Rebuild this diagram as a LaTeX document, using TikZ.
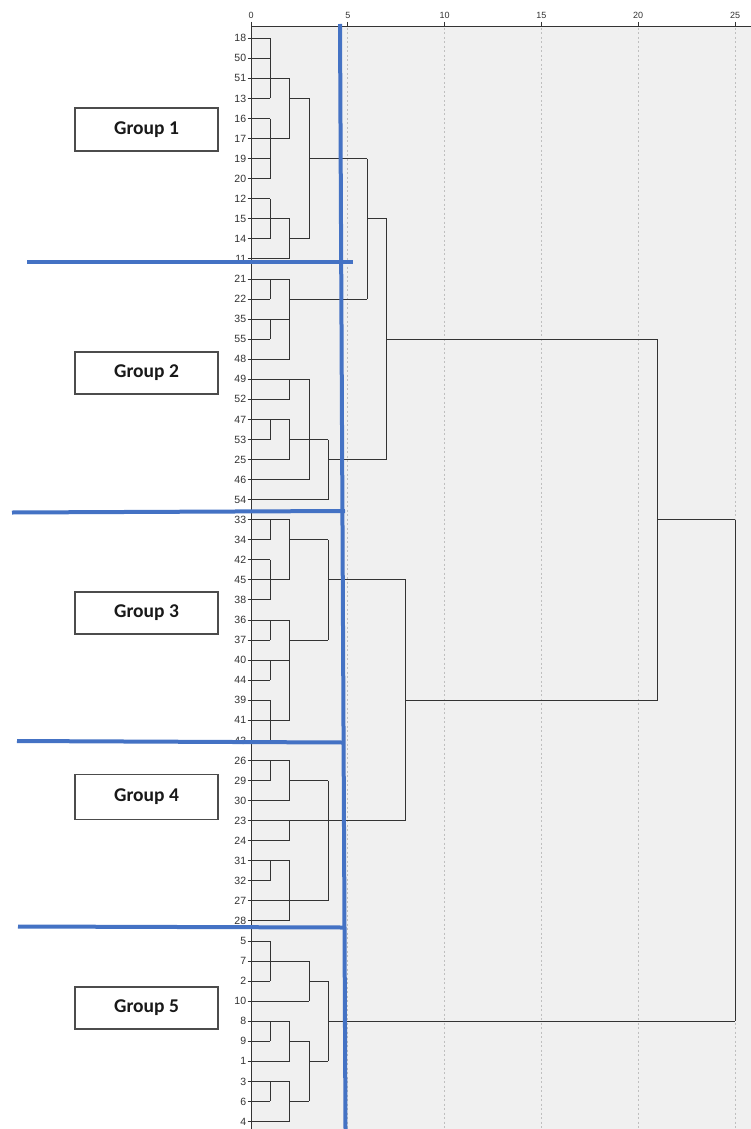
\documentclass[tikz,border=0pt]{standalone}
\usepackage{fontspec}
\setmainfont{Liberation Sans}
\newfontfamily\boxfont{Carlito}
\begin{document}
\begin{tikzpicture}[x=1pt,y=-1pt,
  dline/.style={draw=black!80,line width=1pt},
  leaf/.style={anchor=east,inner sep=0pt,font=\fontsize{10.5}{12}\selectfont,text=black!80},
  axlab/.style={anchor=south,inner sep=0pt,font=\fontsize{9}{10}\selectfont,text=black!80},
  gridl/.style={draw=black!25,line width=0.8pt,dash pattern=on 2pt off 2.5pt},
  cut/.style={draw=cutblue,line width=4pt},
  gbox/.style={draw=black!70,line width=1.2pt,fill=white,minimum width=143pt,inner sep=0pt,font=\boxfont\bfseries\fontsize{19.5}{22}\selectfont,text=black!90}
]
\definecolor{cutblue}{HTML}{4472C4}
\definecolor{bgc}{HTML}{F0F0F0}
\useasboundingbox (0,0) rectangle (751,1129);
\fill[white] (0,0) rectangle (751,1129);
% plot background
\fill[bgc] (251,27) rectangle (751,1129);
% grid lines
\foreach \k in {1,...,5} \draw[gridl] ({251+96.8*\k},28) -- ({251+96.8*\k},1129);
% axis
\draw[dline] (251,27) -- (751,27);
\draw[dline] (251,27) -- (251,1129);
\foreach \k/\t in {0/0,1/5,2/10,3/15,4/20,5/25}{
  \draw[dline] ({251+96.8*\k},22) -- ({251+96.8*\k},27);
  \node[axlab] (ax\k) at ({251+96.8*\k},19) {\t};
}
% dendrogram
\begin{scope}[shift={(251pt,-38.3pt)},x=19.36pt,y=-20.06pt]
\foreach \lab [count=\i from 0] in {18,50,51,13,16,17,19,20,12,15,14,11,21,22,35,55,48,49,52,47,53,25,46,54,33,34,42,45,38,36,37,40,44,39,41,43,26,29,30,23,24,31,32,27,28,5,7,2,10,8,9,1,3,6,4}{
  \node[leaf] (l\lab) at (-0.24,\i) {\lab};
  \draw[dline] (-0.18,\i) -- (0,\i);
}
% horizontal segments: row/from/to
\foreach \r/\a/\b in {
 0/0/1, 1/0/1, 2/0/2, 3/0/1, 3/2/3, 4/0/1, 5/0/2, 6/0/1, 6/3/6, 7/0/1,
 8/0/1, 9/0/2, 9/6/7, 10/0/1, 10/2/3, 11/0/2,
 12/0/2, 13/0/1, 13/2/6, 14/0/2, 15/0/1, 15/7/21, 16/0/2, 17/0/3, 18/0/2,
 19/0/2, 20/0/1, 20/2/4, 21/0/2, 21/4/7, 22/0/3, 23/0/4,
 24/0/2, 24/21/25, 25/0/1, 25/2/4, 26/0/1, 27/0/2, 27/4/8, 28/0/1, 29/0/2,
 30/0/1, 30/2/4, 31/0/2, 32/0/1, 33/0/1, 33/8/21, 34/0/2, 35/0/1,
 36/0/2, 37/0/1, 37/2/4, 38/0/2, 39/0/8, 40/0/2, 41/0/2, 42/0/1, 43/0/4, 44/0/2,
 45/0/1, 46/0/3, 47/0/1, 47/3/4, 48/0/3, 49/0/2, 49/4/25, 50/0/1, 50/2/3,
 51/0/2, 51/3/4, 52/0/2, 53/0/1, 53/2/3, 54/0/2}
  \draw[dline] (\a,\r) -- (\b,\r);
% vertical segments: height/fromrow/torow
\foreach \c/\a/\b in {
 1/0/3, 1/4/7, 1/8/10, 2/2/5, 2/9/11, 3/3/10, 6/6/13, 7/9/21,
 1/12/13, 1/14/15, 1/19/20, 2/12/16, 2/17/18, 2/19/21, 3/17/22, 4/20/23,
 1/24/25, 1/26/28, 1/29/30, 1/31/32, 1/33/35, 2/24/27, 2/29/34, 4/25/30,
 8/27/39, 21/15/33, 25/24/49,
 1/36/37, 1/41/42, 2/36/38, 2/39/40, 2/41/44, 4/37/43,
 1/45/47, 1/49/50, 1/52/53, 2/49/51, 2/52/54, 3/46/48, 3/50/53, 4/47/51}
  \draw[dline] (\c,\a) -- (\c,\b);
\end{scope}
% cut lines
\coordinate (vtop) at (340,24);
\coordinate (vbot) at (345.5,1129);
\draw[cut] (vtop) -- (vbot);
\coordinate (c1a) at (27,262);  \coordinate (c1b) at (353,262);
\coordinate (c2a) at (12,512.5);  \coordinate (c2b) at (345,511);
\coordinate (c3a) at (17,741);  \coordinate (c3b) at (343,742.5);
\coordinate (c4a) at (18,926.5);  \coordinate (c4b) at (344,927.5);
\draw[cut] (c1a) -- (c1b);
\draw[cut] (c2a) -- (c2b);
\draw[cut] (c3a) -- (c3b);
\draw[cut] (c4a) -- (c4b);
% group boxes
\node[gbox,minimum height=43pt] (g1) at (146.5,129.5) {Group 1};
\node[gbox,minimum height=42pt] (g2) at (146.5,373) {Group 2};
\node[gbox,minimum height=42pt] (g3) at (146.5,613) {Group 3};
\node[gbox,minimum height=45pt] (g4) at (146.5,797) {Group 4};
\node[gbox,minimum height=42pt] (g5) at (146.5,1008) {Group 5};
\end{tikzpicture}
\end{document}
